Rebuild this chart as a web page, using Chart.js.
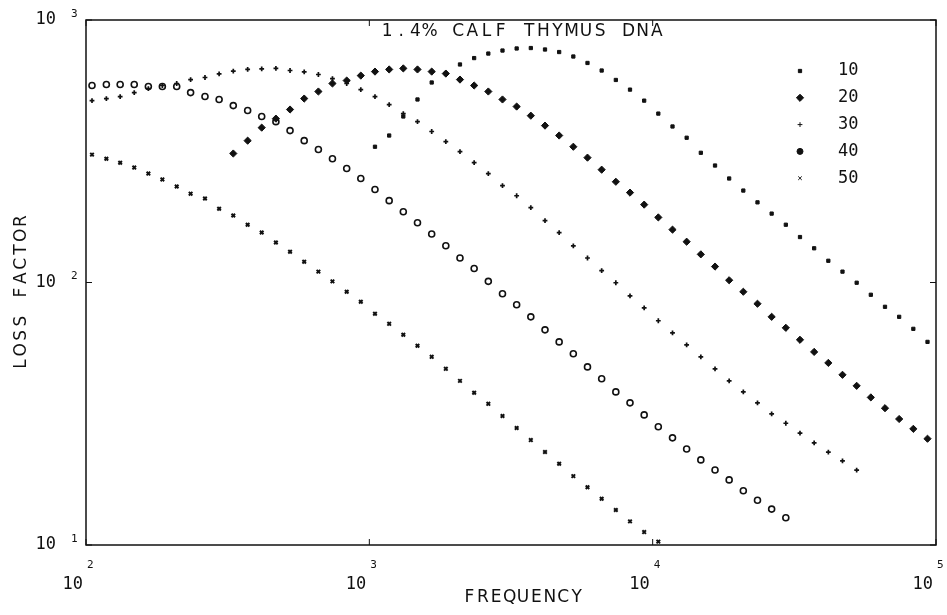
<!DOCTYPE html>
<html>
<head>
<meta charset="utf-8">
<title>1.4% Calf Thymus DNA - Loss Factor</title>
<script src="https://cdn.jsdelivr.net/npm/chart.js@4.4.0/dist/chart.umd.min.js"></script>
<style>
    body { margin: 0; background: #fff; }
    #divChartLossFactor { width: 947px; height: 615px; }
</style>
</head>
<body>
<div id="divChartLossFactor"><canvas id="chartLossFactor" width="947" height="615"></canvas></div>
<script>
// measurement frequencies (Hz), shared by all runs
var freqs = [105, 118, 132, 148, 166, 186, 209, 234, 263, 295,
             331, 372, 417, 468, 525, 589, 661, 741, 832, 933,
             1047, 1175, 1318, 1479, 1660, 1862, 2089, 2344, 2630, 2951,
             3311, 3715, 4169, 4677, 5248, 5888, 6607, 7413, 8318, 9333,
             10470, 11750, 13180, 14790, 16600, 18620, 20890, 23440, 26300, 29510,
             33110, 37150, 41690, 46770, 52480, 58880, 66070, 74130, 83180, 93330];

// loss factor per run, each starting at the given index into freqs
var start10 = 20;
var loss10 = [329, 363, 429, 498, 578, 625, 677, 716, 745, 765,
              779, 782, 772, 755, 726, 686, 642, 591, 543, 493,
              440, 393, 356, 312, 279, 249, 224, 202, 183, 166,
              149, 135, 121, 110, 99.8, 89.8, 80.8, 74.0, 66.6, 59.4];
var start20 = 10;
var loss20 = [310, 347, 389, 421, 456, 502, 534, 573, 588, 614,
              636, 648, 654, 648, 636, 625, 593, 563, 534, 498,
              468, 432, 396, 363, 329, 299, 269, 242, 220, 198,
              177, 159, 143, 128, 115, 102, 92.2, 83.0, 74.0, 67.2,
              60.5, 54.4, 49.4, 44.5, 40.4, 36.5, 33.2, 30.2, 27.7, 25.4];
var start30 = 0;
var loss30 = [493, 502, 511, 529, 548, 563, 573, 593, 604, 623,
              639, 648, 651, 654, 642, 634, 620, 598, 573, 543,
              511, 476, 440, 410, 376, 344, 315, 286, 260, 234,
              214, 193, 172, 155, 138, 124, 111, 99.8, 89.0, 80.1,
              71.5, 64.3, 57.9, 52.1, 46.9, 42.2, 38.3, 34.8, 31.6, 29.1,
              26.7, 24.5, 22.6, 20.9, 19.3];
var start40 = 0;
var loss40 = [563, 568, 568, 568, 558, 558, 558, 529, 511, 498,
              472, 452, 429, 410, 379, 347, 321, 296, 272, 249,
              226, 205, 186, 169, 153, 138, 124, 113, 101, 90.6,
              82.3, 74.0, 66.0, 59.4, 53.5, 47.7, 43.0, 38.3, 34.8, 31.3,
              28.2, 25.6, 23.2, 21.1, 19.3, 17.7, 16.1, 14.8, 13.7, 12.7];
var start50 = 0;
var loss50 = [307, 296, 286, 274, 260, 247, 232, 218, 209, 191,
              180, 166, 155, 142, 131, 120, 110, 101, 92.2, 84.5,
              76.0, 69.6, 63.2, 57.4, 52.1, 46.9, 42.2, 38.0, 34.5, 31.0,
              27.9, 25.1, 22.6, 20.4, 18.3, 16.6, 15.0, 13.6, 12.3, 11.2, 10.3];

var runLabels = ['10', '20', '30', '40', '50'];
var chartTitle = '1.4% CALF THYMUS DNA';
var xTitle = 'FREQUENCY';
var yTitle = 'LOSS FACTOR';
var xDecades = [2, 3, 4, 5];
var yDecades = [1, 2, 3];

function toPoints(startIdx, values) {
    var pts = [];
    for (var i = 0; i < values.length; i++) {
        pts.push({ x: freqs[startIdx + i], y: values[i] });
    }
    return pts;
}

var ink = '#111';
var plotFont = '"DejaVu Sans Mono", monospace';

// draw text one character at a time, plotter style
function drawSpaced(ctx, text, cx, cy, advance) {
    var x0 = cx - advance * (text.length - 1) / 2;
    for (var i = 0; i < text.length; i++) {
        ctx.fillText(text[i], x0 + i * advance, cy);
    }
}

var framePlugin = {
    id: 'framePlugin',
    afterDatasetsDraw: function(chart) {
        var ctx = chart.ctx;
        var area = chart.chartArea;
        var xs = chart.scales.x, ys = chart.scales.y;
        ctx.save();
        ctx.strokeStyle = ink;
        ctx.fillStyle = ink;
        ctx.lineWidth = 1.5;
        ctx.strokeRect(area.left, area.top, area.right - area.left, area.bottom - area.top);

        // small inward ticks at the decades
        ctx.lineWidth = 1;
        ctx.beginPath();
        xDecades.forEach(function(d) {
            var px = xs.getPixelForValue(Math.pow(10, d));
            ctx.moveTo(px, area.bottom); ctx.lineTo(px, area.bottom - 6);
            ctx.moveTo(px, area.top); ctx.lineTo(px, area.top + 6);
        });
        yDecades.forEach(function(d) {
            var py = ys.getPixelForValue(Math.pow(10, d));
            ctx.moveTo(area.left, py); ctx.lineTo(area.left + 6, py);
            ctx.moveTo(area.right, py); ctx.lineTo(area.right - 6, py);
        });
        ctx.stroke();

        ctx.textBaseline = 'middle';
        // x tick labels: 10 with exponent
        xDecades.forEach(function(d) {
            var px = xs.getPixelForValue(Math.pow(10, d));
            ctx.font = '17px ' + plotFont;
            ctx.textAlign = 'right';
            ctx.fillText('10', px - 3, area.bottom + 40);
            ctx.font = '11px ' + plotFont;
            ctx.textAlign = 'left';
            ctx.fillText(String(d), px + 1, area.bottom + 20);
        });
        // y tick labels
        yDecades.forEach(function(d) {
            var py = ys.getPixelForValue(Math.pow(10, d));
            ctx.font = '17px ' + plotFont;
            ctx.textAlign = 'right';
            ctx.fillText('10', area.left - 30, py);
            ctx.font = '11px ' + plotFont;
            ctx.textAlign = 'left';
            ctx.fillText(String(d), area.left - 15, py - 6);
        });

        // titles
        ctx.textAlign = 'center';
        ctx.font = '17px "DejaVu Sans", sans-serif';
        drawSpaced(ctx, chartTitle, (area.left + area.right) / 2 + 11, area.top + 12, 14.2);
        drawSpaced(ctx, xTitle, (area.left + area.right) / 2 + 12, area.bottom + 53, 13.4);
        ctx.save();
        ctx.translate(22, (area.top + area.bottom) / 2 + 10);
        ctx.rotate(-Math.PI / 2);
        drawSpaced(ctx, yTitle, 0, 0, 14.3);
        ctx.restore();

        // legend: marker then run label
        chart.data.datasets.forEach(function(ds, i) {
            var ly = area.top + 51 + i * 26.8;
            Chart.helpers.drawPoint(ctx, {
                pointStyle: ds.pointStyle,
                radius: ds.pointRadius,
                borderWidth: ds.borderWidth
            }, area.left + 714, ly);
            ctx.fillStyle = ink;
            ctx.strokeStyle = ink;
            ctx.font = '17px ' + plotFont;
            ctx.textAlign = 'left';
            ctx.fillText(ds.label, area.left + 752, ly);
        });
        ctx.restore();
    }
};

function makeRun(label, startIdx, values, style, radius, width, filled) {
    return {
        label: label,
        data: toPoints(startIdx, values),
        pointStyle: style,
        pointRadius: radius,
        borderWidth: width,
        borderColor: ink,
        backgroundColor: filled ? ink : 'rgba(0,0,0,0)',
        showLine: false
    };
}

var ctx = document.getElementById('chartLossFactor');
var lossChart = new Chart(ctx, {
    type: 'scatter',
    data: {
        datasets: [
            makeRun(runLabels[0], start10, loss10, 'rect', 2.3, 1, true),
            makeRun(runLabels[1], start20, loss20, 'rectRot', 3.6, 1, true),
            makeRun(runLabels[2], start30, loss30, 'cross', 2.4, 1.7, true),
            makeRun(runLabels[3], start40, loss40, 'circle', 3, 1.6, false),
            makeRun(runLabels[4], start50, loss50, 'crossRot', 2.5, 2, true)
        ]
    },
    options: {
        responsive: false,
        animation: false,
        layout: { padding: { left: 86, right: 11, top: 20, bottom: 70 } },
        plugins: {
            legend: { display: false },
            tooltip: { enabled: false }
        },
        scales: {
            x: { type: 'logarithmic', min: 100, max: 100000, display: false },
            y: { type: 'logarithmic', min: 10, max: 1000, display: false }
        }
    },
    plugins: [framePlugin]
});
</script>
</body>
</html>
